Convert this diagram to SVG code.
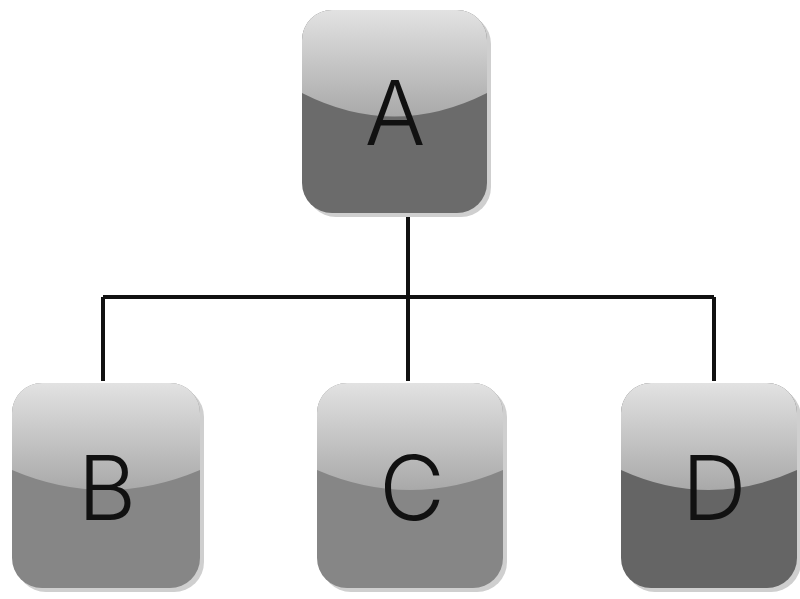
<svg xmlns="http://www.w3.org/2000/svg" width="800" height="599" viewBox="0 0 800 599">
<defs>
<linearGradient id="gloss" x1="0" y1="0" x2="0" y2="1">
<stop offset="0" stop-color="#e2e2e2"/>
<stop offset="1" stop-color="#a9a9a9"/>
</linearGradient>
<clipPath id="cA"><rect x="302" y="10" width="185" height="203" rx="30"/></clipPath>
<clipPath id="cB"><rect x="12" y="383" width="188" height="205" rx="30"/></clipPath>
<clipPath id="cC"><rect x="317" y="383" width="186" height="205" rx="30"/></clipPath>
<clipPath id="cD"><rect x="621" y="383" width="176" height="205" rx="30"/></clipPath>
</defs>
<style>
.shadow{fill:#cfcfcf}
.lbl{font-family:"Inter","Liberation Sans",Arial,sans-serif;font-weight:300;font-size:90px;fill:#111;text-anchor:middle}
.edge{stroke:#111;stroke-width:4;fill:none}
</style>
<rect width="800" height="599" fill="#fff"/>
<g id="connectors">
<path class="edge" d="M408 213V297M103 297H714M103 297V381M408 297V381M714 297V381"/>
</g>
<g id="A">
<rect class="shadow" x="306" y="14" width="185" height="203" rx="30"/>
<g clip-path="url(#cA)">
<rect x="302" y="10" width="185" height="203" fill="#6b6b6b"/>
<path d="M302 10H487V93Q394 140 302 93Z" fill="url(#gloss)"/>
</g>
<text class="lbl" x="395" y="145">A</text>
</g>
<g id="B">
<rect class="shadow" x="16" y="387" width="188" height="205" rx="30"/>
<g clip-path="url(#cB)">
<rect x="12" y="383" width="188" height="205" fill="#868686"/>
<path d="M12 383H200V470Q106 510 12 470Z" fill="url(#gloss)"/>
</g>
<text class="lbl" x="107" y="520">B</text>
</g>
<g id="C">
<rect class="shadow" x="321" y="387" width="186" height="205" rx="30"/>
<g clip-path="url(#cC)">
<rect x="317" y="383" width="186" height="205" fill="#868686"/>
<path d="M317 383H503V470Q410 510 317 470Z" fill="url(#gloss)"/>
</g>
<text class="lbl" x="412" y="520">C</text>
</g>
<g id="D">
<rect class="shadow" x="625" y="387" width="176" height="205" rx="30"/>
<g clip-path="url(#cD)">
<rect x="621" y="383" width="176" height="205" fill="#656565"/>
<path d="M621 383H797V470Q709 510 621 470Z" fill="url(#gloss)"/>
</g>
<text class="lbl" x="714" y="520">D</text>
</g>
</svg>
